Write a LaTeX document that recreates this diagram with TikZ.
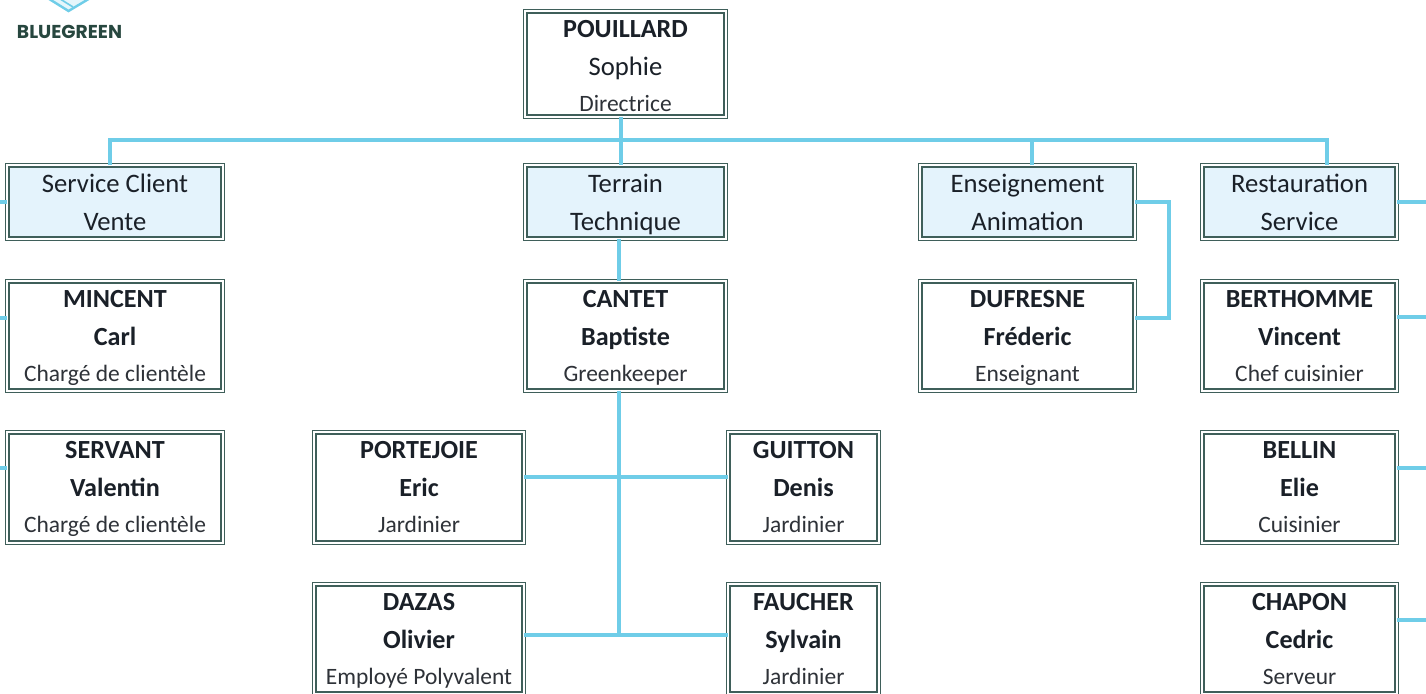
\documentclass[tikz,border=0pt]{standalone}
\usepackage{fontspec}
\setmainfont{Carlito}
\newfontfamily\logofont{Poppins}
\definecolor{wirecol}{HTML}{6FCDE8}
\definecolor{edgecol}{HTML}{3F5F5A}
\definecolor{deptfill}{HTML}{E4F3FC}
\definecolor{inkcol}{HTML}{1A2028}
\definecolor{rolecol}{HTML}{2E3238}
\definecolor{logoink}{HTML}{27473F}
\lineskip=0pt
\lineskiplimit=0pt
\newcommand{\stA}{\rule[-9pt]{0pt}{28.5pt}}
\newcommand{\stB}{\rule[-6pt]{0pt}{25.5pt}}
\newcommand{\stC}{\rule[-7.5pt]{0pt}{25.5pt}}
\newcommand{\stP}{\rule[-4.5pt]{0pt}{22.5pt}}
\newcommand{\fontA}{\fontsize{19.6}{19.6}\selectfont\bfseries}
\newcommand{\fontB}{\fontsize{20}{20}\selectfont}
\newcommand{\fontC}{\fontsize{17.6}{17.6}\selectfont\color{rolecol}}
\newcommand{\threel}[3]{\stA{\fontA #1}\\\stA{\fontA #2}\\\stC{\fontC #3}}
\newcommand{\twol}[2]{\stA{\fontB #1}\\\stB{\fontB #2}}
\tikzset{
  orgbox/.style={draw=edgecol,line width=1.1pt,double=white,double distance=1.4pt,
    fill=white,text=inkcol,align=center,inner sep=-5pt,outer sep=0pt},
  deptbox/.style={orgbox,double=white,fill=deptfill},
  wire/.style={draw=wirecol,line width=3.1pt,line cap=butt,line join=miter},
  wh/.style={minimum width={(#1-4.8)*0.75pt}},
  hh/.style={minimum height={(#1-4.8)*0.75pt}},
}
\begin{document}
\begin{tikzpicture}[x=0.75pt,y=-0.75pt]
\clip (0,0) rectangle (1426,693);
\useasboundingbox (0,0) rectangle (1426,693);
% junctions and free ends
\coordinate (busL) at (110,140);
\coordinate (busM) at (621,140);
\coordinate (busE) at (1032,140);
\coordinate (busR) at (1327,140);
\coordinate (trunk) at (619,635);
\coordinate (rowA) at (619,477);
\coordinate (ensBend) at (1169,202);
\coordinate (ensEnd) at (1169,318);
\coordinate (freeLa) at (0,202);
\coordinate (freeLb) at (0,318);
\coordinate (freeLc) at (0,468);
\coordinate (freeRa) at (1426,202);
\coordinate (freeRb) at (1426,317);
\coordinate (freeRc) at (1426,468);
\coordinate (freeRd) at (1426,620);
% boxes
\node[orgbox,wh=205,hh=110] (pou) at (625.5,64) {\stA{\fontA POUILLARD}\\\stA{\fontB Sophie}\\\stP{\fontC Directrice}};
\node[deptbox,wh=220,hh=78] (svc) at (115,202) {\twol{Service Client}{Vente}};
\node[deptbox,wh=205,hh=78] (ter) at (625.5,202) {\twol{Terrain}{Technique}};
\node[deptbox,wh=219,hh=78] (ens) at (1027.5,202) {\twol{Enseignement}{Animation}};
\node[deptbox,wh=199,hh=78] (res) at (1299.5,202) {\twol{Restauration}{Service}};
\node[orgbox,wh=220,hh=114] (min) at (115,336) {\threel{MINCENT}{Carl}{Chargé de clientèle}};
\node[orgbox,wh=205,hh=114] (can) at (625.5,336) {\threel{CANTET}{Baptiste}{Greenkeeper}};
\node[orgbox,wh=219,hh=114] (duf) at (1027.5,336) {\threel{DUFRESNE}{Fréderic}{Enseignant}};
\node[orgbox,wh=199,hh=114] (ber) at (1299.5,336) {\threel{BERTHOMME}{Vincent}{Chef cuisinier}};
\node[orgbox,wh=220,hh=115] (ser) at (115,487.5) {\threel{SERVANT}{Valentin}{Chargé de clientèle}};
\node[orgbox,wh=214,hh=115] (por) at (419,487.5) {\threel{PORTEJOIE}{Eric}{Jardinier}};
\node[orgbox,wh=155,hh=115] (gui) at (803.5,487.5) {\threel{GUITTON}{Denis}{Jardinier}};
\node[orgbox,wh=199,hh=115] (bel) at (1299.5,487.5) {\threel{BELLIN}{Elie}{Cuisinier}};
\node[orgbox,wh=214,hh=114] (daz) at (419,639) {\threel{DAZAS}{Olivier}{Employé Polyvalent}};
\node[orgbox,wh=155,hh=114] (fau) at (803.5,639) {\threel{FAUCHER}{Sylvain}{Jardinier}};
\node[orgbox,wh=199,hh=114] (cha) at (1299.5,639) {\threel{CHAPON}{Cedric}{Serveur}};
% connectors
\draw[wire] (svc.north -| busL) -- (busL) -- (busR) -- (res.north -| busR);
\draw[wire,line width=2.6pt] (pou.south -| busM) -- (ter.north -| busM);
\draw[wire] (ens.north -| busE) -- (busE);
\draw[wire,line width=2.6pt] (ter.south -| trunk) -- (can.north -| trunk);
\draw[wire,line width=2.6pt] (can.south -| trunk) -- (trunk);
\draw[wire] (por.east |- rowA) -- (gui.west |- rowA);
\draw[wire] (daz.east |- trunk) -- (fau.west |- trunk);
\draw[wire] (ens.east) -- (ensBend) -- (ensEnd) -- (duf.east |- ensEnd);
\draw[wire] (svc.west) -- (freeLa);
\draw[wire] (min.west |- freeLb) -- (freeLb);
\draw[wire] (ser.west |- freeLc) -- (freeLc);
\draw[wire] (res.east) -- (freeRa);
\draw[wire] (ber.east |- freeRb) -- (freeRb);
\draw[wire] (bel.east |- freeRc) -- (freeRc);
\draw[wire] (cha.east |- freeRd) -- (freeRd);
% logo
\fill[wirecol!18] (48,-1) -- (68.5,12) -- (90,-1) -- cycle;
\draw[draw=wirecol,line width=1.8pt,line join=miter] (46,-3) -- (68.5,11) -- (92,-3);
\draw[draw=wirecol,line width=1.2pt] (57,-3) -- (73,7);
\node[text=logoink,font=\logofont\bfseries\fontsize{14}{14}\selectfont,inner sep=0pt] (logo) at (69.5,32) {BLUEGREEN};
\end{tikzpicture}
\end{document}
